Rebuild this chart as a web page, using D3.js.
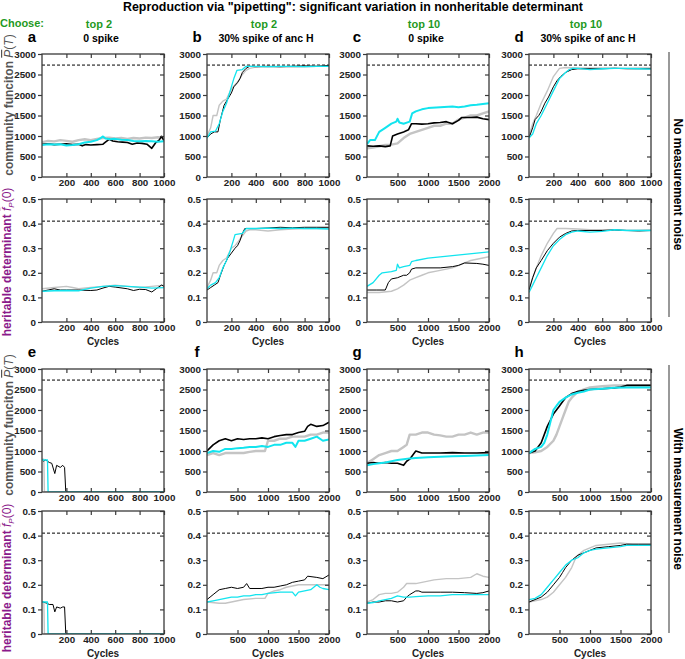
<!DOCTYPE html>
<html><head><meta charset="utf-8">
<script src="https://cdn.jsdelivr.net/npm/d3@7"></script>
<style>body{margin:0;background:#fff}svg{display:block;font-family:"Liberation Sans",Arial,sans-serif}</style>
</head><body><svg id="c" width="685" height="659"></svg>
<script>
// ---------- data ----------
const title = 'Reproduction via "pipetting": significant variation in nonheritable determinant';
const panelLetters = ["a","b","c","d","e","f","g","h"];
const chooseLabels = ["top 2","top 2","top 10","top 10"];
const spikeLabels = ["0 spike","30% spike of anc H","0 spike","30% spike of anc H"];
const xMaxes = [1000,1000,2000,1000,1000,2000,2000,2000];
const xTicks1000 = [200,400,600,800,1000];
const xTicks2000 = [500,1000,1500,2000];
const yTicksP = [0,500,1000,1500,2000,2500,3000];
const yTicksF = [0,0.1,0.2,0.3,0.4,0.5];
const targetP = 2730, targetF = 0.41;
const rowLabels = ["No measurement noise","With measurement noise"];

const aTopGray=[[0,850],[50,880],[100,870],[150,900],[200,880],[250,860],[300,900],[350,920],[400,900],[450,930],[500,950],[550,960],[600,940],[650,950],[700,930],[750,950],[800,940],[850,960],[900,950],[950,970],[1000,960]];
const aTopBlack=[[0,800],[50,810],[100,790],[150,800],[200,810],[250,790],[300,800],[330,760],[360,790],[400,780],[450,790],[500,800],[520,850],[550,920],[580,880],[620,860],[660,850],[700,840],[740,800],[780,830],[820,820],[860,800],[900,700],[930,830],[960,900],[980,990],[1000,880]];
const aTopCyan=[[0,780],[50,800],[100,790],[150,800],[200,770],[250,780],[300,800],[350,840],[400,860],[450,900],[480,950],[500,990],[520,940],[560,920],[600,930],[650,910],[700,900],[750,880],[800,870],[850,880],[900,870],[950,860],[1000,870]];
const aBotGray=[[0,0.135],[100,0.14],[200,0.145],[250,0.14],[300,0.135],[400,0.14],[500,0.145],[600,0.15],[700,0.145],[800,0.14],[900,0.145],[1000,0.15]];
const aBotBlack=[[0,0.125],[50,0.13],[100,0.135],[150,0.13],[200,0.13],[300,0.13],[400,0.128],[450,0.13],[500,0.138],[550,0.145],[600,0.142],[700,0.135],[750,0.128],[800,0.133],[850,0.132],[900,0.122],[950,0.14],[980,0.15],[1000,0.145]];
const aBotCyan=[[0,0.125],[100,0.127],[200,0.128],[300,0.127],[350,0.133],[400,0.138],[500,0.145],[600,0.148],[700,0.145],[800,0.142],[900,0.138],[1000,0.14]];

const bTopGray=[[0,1000],[30,1200],[50,1500],[80,1500],[100,1750],[130,1850],[160,1900],[200,2150],[230,2250],[260,2350],[290,2500],[320,2600],[350,2650],[400,2680],[500,2680],[600,2690],[700,2680],[800,2690],[900,2700],[1000,2700]];
const bTopBlack=[[0,950],[30,1050],[60,1100],[90,1100],[110,1400],[140,1750],[170,1900],[200,2050],[220,2200],[250,2300],[270,2400],[290,2550],[320,2650],[350,2700],[400,2690],[500,2700],[600,2690],[700,2700],[800,2710],[900,2700],[1000,2720]];
const bTopCyan=[[0,950],[30,1100],[70,1120],[100,1300],[130,1600],[160,1800],[190,2100],[220,2400],[245,2600],[290,2620],[320,2700],[400,2700],[500,2690],[600,2700],[700,2700],[800,2690],[900,2700],[1000,2700]];
const bBotGray=[[0,0.14],[30,0.17],[50,0.2],[80,0.2],[100,0.23],[130,0.25],[160,0.26],[200,0.3],[230,0.31],[260,0.33],[290,0.35],[320,0.37],[350,0.375],[400,0.375],[500,0.37],[600,0.375],[700,0.378],[800,0.38],[900,0.38],[1000,0.38]];
const bBotBlack=[[0,0.13],[30,0.14],[60,0.15],[90,0.16],[110,0.19],[140,0.23],[170,0.26],[200,0.28],[230,0.3],[250,0.31],[270,0.33],[290,0.36],[310,0.38],[350,0.38],[400,0.38],[500,0.382],[600,0.385],[700,0.383],[800,0.385],[900,0.385],[1000,0.385]];
const bBotCyan=[[0,0.135],[30,0.15],[70,0.16],[100,0.18],[130,0.22],[160,0.25],[190,0.29],[215,0.33],[230,0.355],[290,0.36],[320,0.38],[400,0.38],[500,0.382],[600,0.38],[700,0.382],[800,0.38],[900,0.38],[1000,0.378]];

const cTopGray=[[0,700],[100,720],[200,750],[300,780],[400,790],[500,820],[600,950],[700,1050],[800,1100],[900,1150],[1000,1200],[1100,1250],[1200,1250],[1300,1300],[1400,1300],[1500,1400],[1600,1450],[1700,1500],[1800,1500],[1900,1550],[2000,1600]];
const cTopBlack=[[0,760],[100,750],[200,760],[300,740],[380,760],[420,1000],[500,1050],[600,1100],[680,1150],[730,1300],[800,1300],[900,1290],[1000,1300],[1100,1320],[1200,1330],[1300,1350],[1400,1300],[1500,1380],[1550,1450],[1700,1450],[1800,1460],[1900,1420],[2000,1400]];
const cTopCyan=[[0,800],[50,900],[130,900],[200,1100],[300,1200],[400,1300],[480,1350],[500,1420],[530,1330],[600,1300],[700,1350],[740,1550],[800,1600],[900,1650],[1000,1680],[1200,1700],[1400,1720],[1500,1700],[1600,1720],[1700,1750],[1800,1760],[1900,1780],[2000,1800]];
const cBotGray=[[0,0.12],[200,0.12],[400,0.125],[500,0.135],[600,0.15],[700,0.17],[800,0.18],[900,0.19],[1000,0.2],[1200,0.21],[1400,0.22],[1500,0.23],[1600,0.24],[1700,0.25],[1800,0.255],[2000,0.265]];
const cBotBlack=[[0,0.13],[150,0.13],[300,0.13],[350,0.16],[400,0.175],[500,0.18],[600,0.19],[650,0.19],[700,0.2],[730,0.215],[800,0.22],[1000,0.22],[1200,0.22],[1400,0.225],[1500,0.23],[1600,0.24],[1800,0.238],[1900,0.235],[2000,0.23]];
const cBotCyan=[[0,0.145],[100,0.16],[200,0.19],[250,0.2],[400,0.205],[480,0.21],[500,0.235],[530,0.22],[600,0.225],[700,0.23],[730,0.245],[800,0.25],[1000,0.26],[1200,0.265],[1400,0.27],[1600,0.275],[1800,0.28],[2000,0.285]];

const dTopGray=[[0,1000],[30,1300],[60,1500],[100,1800],[150,2100],[200,2450],[250,2650],[300,2670],[400,2660],[500,2660],[600,2660],[700,2660],[800,2650],[900,2660],[1000,2660]];
const dTopBlack=[[0,950],[30,1200],[50,1400],[80,1500],[100,1600],[130,1800],[160,1950],[200,2200],[230,2350],[260,2450],[300,2550],[350,2620],[400,2640],[500,2640],[600,2640],[700,2650],[800,2640],[900,2640],[1000,2640]];
const dTopCyan=[[0,950],[30,1050],[60,1300],[100,1500],[150,1800],[200,2100],[250,2400],[300,2550],[330,2620],[360,2650],[400,2650],[500,2620],[600,2640],[700,2650],[800,2650],[900,2640],[1000,2630]];
const dBotGray=[[0,0.13],[30,0.18],[60,0.22],[100,0.27],[150,0.32],[200,0.36],[230,0.38],[300,0.38],[400,0.378],[500,0.375],[600,0.375],[700,0.375],[800,0.373],[900,0.373],[1000,0.375]];
const dBotBlack=[[0,0.13],[30,0.18],[60,0.22],[100,0.25],[150,0.29],[200,0.32],[250,0.345],[300,0.36],[350,0.37],[400,0.372],[500,0.372],[600,0.372],[700,0.374],[800,0.372],[900,0.37],[1000,0.372]];
const dBotCyan=[[0,0.12],[30,0.15],[60,0.18],[100,0.22],[150,0.27],[200,0.31],[250,0.335],[300,0.355],[350,0.365],[400,0.37],[500,0.365],[600,0.368],[700,0.375],[800,0.372],[900,0.372],[1000,0.372]];

const eTopGray=[[0,800],[15,800],[20,0],[1000,0]];
const eTopBlack=[[10,750],[30,780],[60,720],[80,700],[105,450],[120,650],[150,600],[170,650],[185,600],[195,0],[1000,0]];
const eTopCyan=[[0,780],[45,780],[50,0],[1000,0]];
const eBotGray=[[0,0.13],[15,0.13],[20,0],[1000,0]];
const eBotBlack=[[10,0.13],[40,0.125],[60,0.12],[90,0.12],[105,0.09],[120,0.11],[150,0.105],[170,0.11],[185,0.11],[195,0],[1000,0]];
const eBotCyan=[[0,0.13],[45,0.13],[50,0],[1000,0]];

const fTopGray=[[0,900],[100,950],[200,900],[300,950],[400,950],[500,950],[600,950],[700,980],[800,1000],[950,1000],[1000,1250],[1100,1250],[1200,1300],[1300,1300],[1400,1350],[1500,1350],[1600,1350],[1700,1400],[1800,1400],[1900,1450],[2000,1450]];
const fTopBlack=[[0,1000],[100,1150],[200,1250],[300,1300],[400,1250],[500,1300],[600,1280],[700,1300],[800,1300],[900,1320],[1000,1300],[1100,1350],[1200,1380],[1300,1400],[1400,1400],[1500,1450],[1600,1480],[1650,1600],[1700,1650],[1800,1600],[1900,1620],[2000,1700]];
const fTopCyan=[[0,950],[100,1000],[200,980],[300,1050],[400,1050],[500,1070],[600,1080],[700,1100],[800,1100],[900,1120],[1000,1100],[1100,1150],[1200,1150],[1300,1200],[1400,1200],[1450,1100],[1500,1250],[1600,1250],[1700,1300],[1800,1350],[1900,1250],[2000,1280]];
const fBotGray=[[0,0.13],[200,0.125],[300,0.125],[500,0.135],[600,0.14],[800,0.145],[950,0.145],[1000,0.165],[1100,0.175],[1200,0.18],[1300,0.19],[1500,0.2],[1700,0.2],[2000,0.2]];
const fBotBlack=[[0,0.14],[50,0.15],[100,0.16],[200,0.18],[300,0.185],[400,0.19],[500,0.185],[600,0.19],[650,0.205],[700,0.185],[900,0.185],[1000,0.19],[1100,0.19],[1200,0.195],[1300,0.2],[1400,0.21],[1500,0.215],[1600,0.22],[1650,0.235],[1800,0.23],[1900,0.225],[2000,0.24]];
const fBotCyan=[[0,0.13],[100,0.135],[200,0.14],[300,0.145],[400,0.15],[500,0.15],[600,0.155],[700,0.155],[800,0.16],[900,0.16],[1000,0.165],[1200,0.17],[1400,0.17],[1450,0.155],[1500,0.17],[1600,0.175],[1700,0.18],[1800,0.2],[1850,0.19],[1900,0.185],[2000,0.18]];

const gTopGray=[[0,700],[100,800],[200,900],[300,950],[400,1000],[500,1000],[600,1100],[650,1150],[700,1400],[800,1400],[900,1450],[1000,1450],[1100,1400],[1200,1380],[1300,1350],[1400,1350],[1500,1400],[1600,1400],[1700,1450],[1800,1400],[1900,1450],[2000,1450]];
const gTopBlack=[[0,700],[100,720],[200,700],[300,720],[400,700],[500,700],[600,650],[650,750],[700,800],[800,1000],[900,950],[1000,950],[1200,950],[1400,960],[1600,950],[1800,950],[2000,960]];
const gTopCyan=[[0,650],[100,680],[200,700],[300,720],[400,750],[500,780],[600,800],[700,820],[800,830],[1000,850],[1200,860],[1400,870],[1600,880],[1800,890],[2000,900]];
const gBotGray=[[0,0.13],[100,0.14],[200,0.16],[300,0.165],[400,0.165],[500,0.17],[600,0.19],[650,0.205],[800,0.205],[900,0.21],[1000,0.215],[1100,0.22],[1300,0.225],[1500,0.225],[1700,0.23],[1800,0.245],[1900,0.235],[2000,0.23]];
const gBotBlack=[[0,0.125],[100,0.13],[200,0.13],[300,0.135],[400,0.135],[500,0.13],[600,0.135],[650,0.15],[700,0.16],[800,0.175],[850,0.175],[900,0.17],[1000,0.17],[1200,0.17],[1400,0.17],[1600,0.168],[1800,0.165],[1900,0.168],[2000,0.175]];
const gBotCyan=[[0,0.125],[100,0.128],[200,0.135],[300,0.14],[400,0.145],[500,0.155],[600,0.15],[700,0.15],[800,0.152],[1000,0.155],[1200,0.155],[1400,0.16],[1500,0.16],[1600,0.16],[1800,0.16],[2000,0.16]];

const hTopGray=[[0,950],[100,970],[200,1000],[300,1100],[400,1250],[450,1400],[500,1600],[550,1800],[600,2000],[650,2200],[700,2300],[800,2450],[900,2500],[1000,2550],[1200,2580],[1400,2600],[1600,2600],[1800,2600],[2000,2600]];
const hTopBlack=[[0,950],[100,1000],[200,1200],[250,1400],[300,1600],[350,1750],[400,1900],[450,2000],[500,2100],[550,2200],[600,2300],[700,2400],[800,2450],[900,2480],[1000,2500],[1200,2520],[1400,2540],[1500,2560],[1600,2600],[1800,2600],[2000,2600]];
const hTopCyan=[[0,950],[100,1050],[200,1100],[250,1200],[300,1400],[350,1700],[400,2000],[450,2100],[500,2200],[600,2300],[700,2380],[800,2420],[900,2450],[1000,2500],[1200,2520],[1400,2540],[1600,2550],[1800,2550],[2000,2550]];
const hBotGray=[[0,0.13],[100,0.135],[200,0.14],[300,0.15],[400,0.17],[500,0.2],[600,0.23],[700,0.27],[750,0.3],[800,0.32],[900,0.34],[1000,0.35],[1100,0.36],[1300,0.365],[1500,0.37],[1700,0.365],[2000,0.365]];
const hBotBlack=[[0,0.13],[100,0.14],[200,0.15],[300,0.17],[400,0.2],[500,0.23],[550,0.25],[600,0.27],[700,0.3],[800,0.32],[900,0.33],[1000,0.34],[1100,0.35],[1300,0.355],[1500,0.36],[1600,0.365],[1800,0.365],[2000,0.365]];
const hBotCyan=[[0,0.14],[100,0.145],[200,0.16],[300,0.19],[400,0.22],[500,0.25],[600,0.28],[700,0.3],[800,0.31],[900,0.33],[1000,0.34],[1100,0.345],[1300,0.35],[1500,0.355],[1600,0.36],[1800,0.36],[2000,0.36]];

const topSeries=[[aTopGray,aTopBlack,aTopCyan],[bTopGray,bTopBlack,bTopCyan],[cTopGray,cTopBlack,cTopCyan],[dTopGray,dTopBlack,dTopCyan],
                 [eTopGray,eTopBlack,eTopCyan],[fTopGray,fTopBlack,fTopCyan],[gTopGray,gTopBlack,gTopCyan],[hTopGray,hTopBlack,hTopCyan]];
const botSeries=[[aBotGray,aBotBlack,aBotCyan],[bBotGray,bBotBlack,bBotCyan],[cBotGray,cBotBlack,cBotCyan],[dBotGray,dBotBlack,dBotCyan],
                 [eBotGray,eBotBlack,eBotCyan],[fBotGray,fBotBlack,fBotCyan],[gBotGray,gBotBlack,gBotCyan],[hBotGray,hBotBlack,hBotCyan]];
const noisyTop=[true,false,true,false,false,true,true,true];

// ---------- layout ----------
const colX=[42,207,367,529], W=122, H=123;
const rowY=[54,199,369,511];
const seriesColors=["#c4c4c4","#000000","#12e4ee"];
const green="#1f9a1f", purple="#8b1a8b", frameCol="#3a3a3a";

const svg=d3.select("#c");
svg.append("text").attr("x",353).attr("y",11).attr("text-anchor","middle")
  .attr("font-size",12.4).attr("font-weight","bold").text(title);
svg.append("text").attr("x",0).attr("y",27).attr("font-size",11).attr("font-weight","bold").attr("fill",green).text("Choose:");

function drawPanel(px,py,xMax,yMax,yTicks,yFmt,series,target,noisy,showCycles){
  const x=d3.scaleLinear().domain([0,xMax]).range([px,px+W]);
  const y=d3.scaleLinear().domain([0,yMax]).range([py+H,py]);
  const g=svg.append("g");
  const xt = xMax===1000?xTicks1000:xTicks2000;
  const id="clip"+px+"_"+py;
  svg.append("clipPath").attr("id",id).append("rect").attr("x",px).attr("y",py-1).attr("width",W).attr("height",H+1);
  const lg=g.append("g").attr("clip-path","url(#"+id+")");
  lg.append("line").attr("x1",x(0)).attr("x2",x(xMax)).attr("y1",y(target)).attr("y2",y(target))
    .attr("stroke","#000").attr("stroke-width",1).attr("stroke-dasharray","3,2");
  const widths = noisy?[2.4,1.6,2.0]:[1.4,1.0,1.3];
  const line=d3.line().x(d=>x(d[0])).y(d=>y(d[1]));
  series.forEach((s,i)=>{
    lg.append("path").attr("d",line(s)).attr("fill","none").attr("stroke",seriesColors[i])
      .attr("stroke-width",widths[i]).attr("stroke-linejoin","round");
  });
  const ax=d3.axisBottom(x).tickValues(xt).tickSize(-4).tickPadding(2.5).tickFormat(d3.format("d"));
  const axTop=d3.axisTop(x).tickValues(xt).tickSize(-4).tickFormat("");
  const ay=d3.axisLeft(y).tickValues(yTicks).tickSize(4).tickPadding(2).tickFormat(yFmt);
  const ayR=d3.axisRight(y).tickValues(yTicks).tickSize(-4).tickFormat("");
  [[ax,"translate(0,"+(py+H)+")"],[axTop,"translate(0,"+py+")"],[ay,"translate("+px+",0)"],[ayR,"translate("+(px+W)+",0)"]].forEach(([a,t])=>{
    const gg=g.append("g").attr("transform",t).call(a);
    gg.select(".domain").remove();
    gg.selectAll("line").attr("stroke",frameCol).attr("stroke-width",1.2);
    gg.selectAll("text").attr("font-size",9.8).attr("font-weight","bold").attr("fill","#222")
      .attr("font-family","'Liberation Sans',Arial,sans-serif");
  });
  g.append("rect").attr("x",px).attr("y",py).attr("width",W).attr("height",H)
    .attr("fill","none").attr("stroke",frameCol).attr("stroke-width",1.3);
  if(showCycles){
    g.append("text").attr("x",px+W/2).attr("y",py+H+22.5).attr("text-anchor","middle")
      .attr("font-size",10).attr("font-weight","bold").attr("fill","#222").text("Cycles");
  }
}

for(let k=0;k<8;k++){
  const col=k%4, blk=Math.floor(k/4);
  const px=colX[col];
  const pyTop=rowY[blk*2], pyBot=rowY[blk*2+1];
  drawPanel(px,pyTop,xMaxes[k],3000,yTicksP,d3.format("d"),topSeries[k],targetP,noisyTop[k],false);
  drawPanel(px,pyBot,xMaxes[k],0.5,yTicksF,d=>d===0?"0":d3.format(".1f")(d),botSeries[k],targetF,false,true);
  svg.append("text").attr("x",px-10).attr("y",pyTop-12).attr("text-anchor","middle")
    .attr("font-size",15).attr("font-weight","bold").text(panelLetters[k]);
  if(blk===0){
    svg.append("text").attr("x",px+W/2-4).attr("y",28).attr("text-anchor","middle")
      .attr("font-size",11).attr("font-weight","bold").attr("fill",green).text(chooseLabels[col]);
    svg.append("text").attr("x",px+W/2-2).attr("y",42).attr("text-anchor","middle")
      .attr("font-size",10.5).attr("font-weight","bold").text(spikeLabels[col]);
  }
}

function yLabelP(cy){
  const t=svg.append("text").attr("transform","translate(13,"+cy+") rotate(-90)").attr("text-anchor","middle")
    .attr("font-size",12).attr("font-weight","bold").attr("fill","#555");
  t.append("tspan").text("community funciton ");
  t.append("tspan").attr("font-style","italic").attr("font-weight","normal").style("text-decoration","overline").text("P");
  t.append("tspan").attr("font-weight","normal").text("(");
  t.append("tspan").attr("font-style","italic").attr("font-weight","normal").text("T");
  t.append("tspan").attr("font-weight","normal").text(")");
}
function yLabelF(cy){
  const t=svg.append("text").attr("transform","translate(11,"+cy+") rotate(-90)").attr("text-anchor","middle")
    .attr("font-size",12).attr("font-weight","bold").attr("fill",purple);
  t.append("tspan").text("heritable determinant ");
  t.append("tspan").attr("font-style","italic").attr("font-weight","normal").style("text-decoration","overline").text("f");
  t.append("tspan").attr("font-style","italic").attr("font-weight","normal").attr("font-size",8).attr("dy",3).text("P");
  t.append("tspan").attr("font-weight","normal").attr("dy",-3).text("(0)");
}
yLabelP(105); yLabelF(262); yLabelP(425); yLabelF(578);

[[52,317,rowLabels[0]],[365,633,rowLabels[1]]].forEach(([y1,y2,lab])=>{
  svg.append("line").attr("x1",669).attr("x2",669).attr("y1",y1).attr("y2",y2).attr("stroke","#777").attr("stroke-width",1.5);
  svg.append("text").attr("transform","translate(674,"+((y1+y2)/2)+") rotate(90)").attr("text-anchor","middle")
    .attr("font-size",12).attr("font-weight","bold").text(lab);
});
</script></body></html>
